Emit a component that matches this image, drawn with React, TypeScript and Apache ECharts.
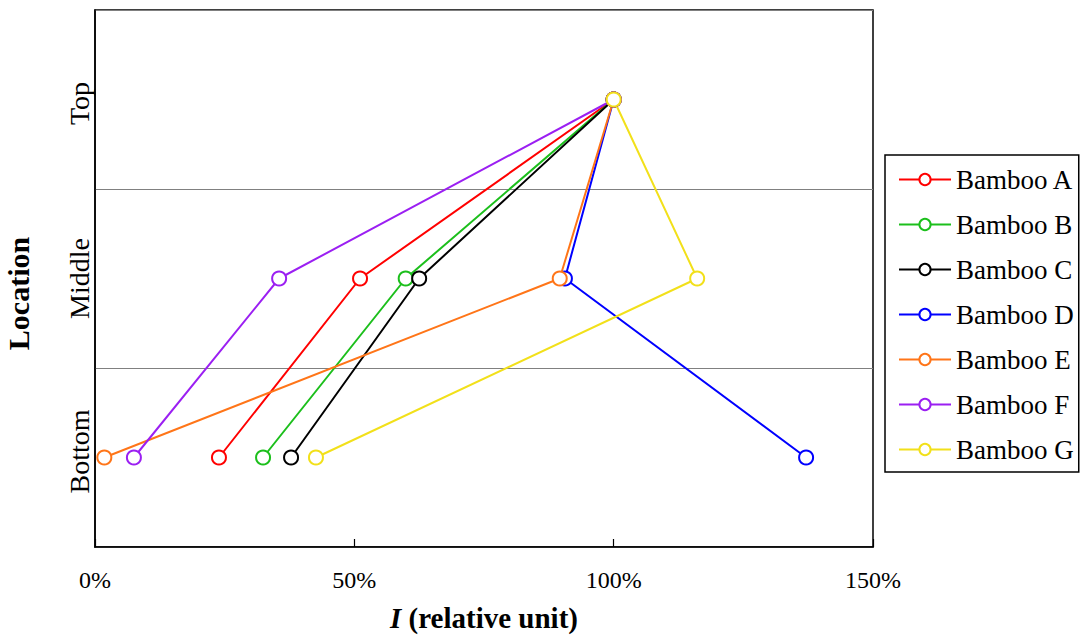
import React, { useEffect, useRef } from "react";
import * as echarts from "echarts";

// Relative intensity I (%) at each culm position, ordered Bottom, Middle, Top
const locations = ["Bottom", "Middle", "Top"];
const locationLevels = [0.5, 1.5, 2.5];
const seriesNames = ["Bamboo A", "Bamboo B", "Bamboo C", "Bamboo D", "Bamboo E", "Bamboo F", "Bamboo G"];
const bambooA = [23.9, 51.1, 100];
const bambooB = [32.4, 59.9, 100];
const bambooC = [37.8, 62.5, 100];
const bambooD = [137.1, 90.6, 100];
const bambooE = [1.8, 89.6, 100];
const bambooF = [7.5, 35.5, 100];
const bambooG = [42.6, 116.1, 100];
const seriesValues = [bambooA, bambooB, bambooC, bambooD, bambooE, bambooF, bambooG];
const seriesColors = ["#ff0000", "#1cbf1c", "#000000", "#0000ff", "#ff7518", "#9b1ff2", "#f2e01a"];
const xTicks = [0, 50, 100, 150];

const SERIF = "'Liberation Serif', 'Times New Roman', serif";
const labelStyle = { fontFamily: SERIF, fontSize: 28, color: "#000" };

export default function App() {
  const ref = useRef<HTMLDivElement>(null);

  useEffect(() => {
    if (!ref.current) return;
    const chart = echarts.init(ref.current, null, { renderer: "svg" });

    const series = seriesNames.map((name, i) => ({
      name,
      type: "line",
      data: seriesValues[i].map((v, j) => [v, locationLevels[j]]),
      symbol: "emptyCircle",
      symbolSize: 14,
      color: seriesColors[i],
      lineStyle: { width: 2, color: seriesColors[i] },
      itemStyle: { color: seriesColors[i], borderWidth: 2, borderColor: seriesColors[i] },
      xAxisIndex: 0,
      yAxisIndex: 0,
    }));

    chart.setOption({
      animation: false,
      backgroundColor: "#ffffff",
      grid: {
        left: 95,
        right: 208,
        top: 10,
        bottom: 90,
        outerBoundsMode: "none",
        containLabel: false,
        show: true,
        borderColor: "#000",
        borderWidth: 1.5,
        backgroundColor: "transparent",
      },
      legend: {
        orient: "vertical",
        left: 885,
        top: 155,
        data: seriesNames,
        borderColor: "#000",
        borderWidth: 1.5,
        borderRadius: 0,
        padding: [11, 5, 9, 13],
        itemWidth: 52,
        itemHeight: 14,
        itemGap: 18,
        itemStyle: { borderWidth: 2 },
        textStyle: { fontFamily: SERIF, fontSize: 27, color: "#000", lineHeight: 25 },
      },
      xAxis: {
        type: "value",
        min: xTicks[0],
        max: xTicks[xTicks.length - 1],
        interval: 50,
        name: "{i|I} (relative unit)",
        nameLocation: "middle",
        nameGap: 56,
        nameTextStyle: {
          fontFamily: SERIF,
          fontSize: 29,
          fontWeight: "bold",
          color: "#000",
          rich: {
            i: { fontFamily: SERIF, fontSize: 29, fontWeight: "bold", fontStyle: "italic", color: "#000" },
          },
        },
        axisLine: { show: true, lineStyle: { color: "#000", width: 1.5 } },
        axisTick: { show: true, inside: true, length: 8, lineStyle: { color: "#000", width: 1.2 } },
        axisLabel: {
          formatter: (v: number) => `${v}%`,
          fontFamily: SERIF,
          fontSize: 24,
          color: "#000",
          margin: 21,
        },
        splitLine: { show: false },
      },
      yAxis: [
        {
          type: "value",
          min: 0,
          max: 3,
          interval: 1,
          name: "Location",
          nameLocation: "middle",
          nameRotate: 90,
          nameGap: 62,
          nameTextStyle: {
            fontFamily: SERIF,
            fontSize: 30,
            fontWeight: "bold",
            color: "#000",
            padding: [0, 30, 0, 0],
          },
          axisLine: { show: true, lineStyle: { color: "#000", width: 1.5 } },
          axisTick: { show: false },
          axisLabel: { show: false },
          splitLine: { show: true, lineStyle: { color: "#808080", width: 1 } },
        },
        {
          type: "value",
          position: "left",
          min: 0,
          max: 3,
          interval: 0.5,
          axisLine: { show: false },
          axisTick: { show: false },
          splitLine: { show: false },
          axisLabel: {
            rotate: 90,
            margin: 2,
            ...labelStyle,
            formatter: (v: number) => {
              const idx = locationLevels.indexOf(v);
              if (idx < 0) return "";
              return `{l${idx}|${locations[idx]}}`;
            },
            rich: {
              l0: { ...labelStyle, padding: [0, 0, 0, 12] },
              l1: { ...labelStyle },
              l2: { ...labelStyle, padding: [0, 8, 0, 0] },
            },
          },
        },
      ],
      series,
    });

    return () => chart.dispose();
  }, []);

  return (
    <div
      ref={ref}
      style={{ position: "fixed", left: 0, top: 0, width: 1081, height: 637, background: "#fff" }}
    />
  );
}
